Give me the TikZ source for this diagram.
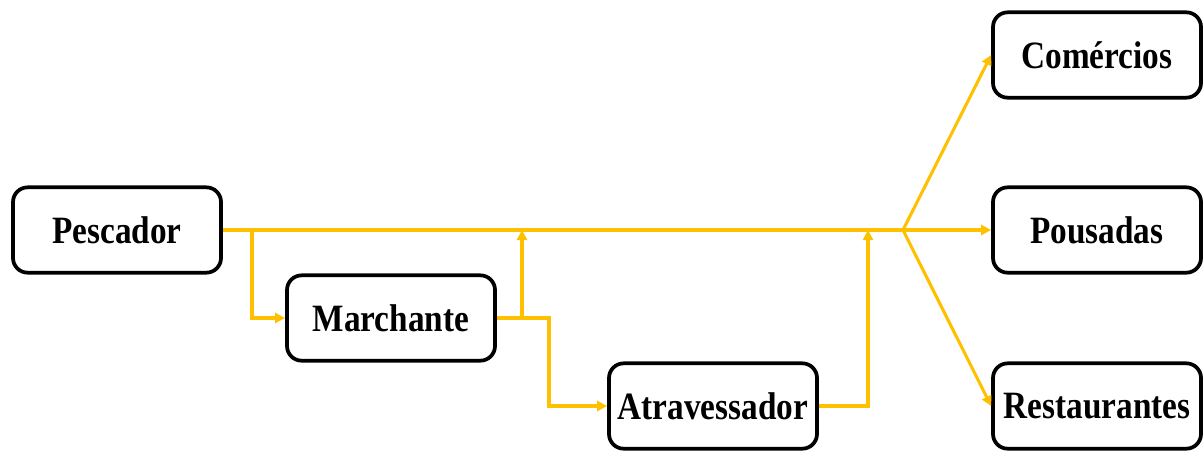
\documentclass[tikz,border=0pt]{standalone}
\usepackage{fontspec}
\setmainfont{Liberation Serif}
\newfontfamily\boxfont[FakeStretch=0.86]{Liberation Serif}
\usetikzlibrary{arrows.meta}
\definecolor{flowgold}{RGB}{255,192,0}

\begin{document}
\begin{tikzpicture}[x=0.75pt,y=-0.75pt,
  agent/.style={draw,line width=2.8pt,rounded corners=11pt,minimum width=156pt,minimum height=64pt,inner sep=2pt,font=\boxfont\bfseries\fontsize{29}{35}\selectfont},
  flow/.style={flowgold,line width=2.3pt},
  flowarr/.style={flow,-{Triangle[length=7.5pt,width=7.5pt]}}]
\useasboundingbox (0,0) rectangle (1203,450);
% agentes
\node[agent] (pescador) at (117,230) {Pescador};
\node[agent] (marchante) at (391,318) {Marchante};
\node[agent] (atravessador) at (713,406) {Atravessador};
\node[agent] (comercios) at (1097,55) {Comércios};
\node[agent] (pousadas) at (1097,230) {Pousadas};
\node[agent] (restaurantes) at (1097,406) {Restaurantes};
% pontos de ramificacao
\coordinate (b1) at (252,0);
\coordinate (b2) at (522,0);
\coordinate (b3) at (549,0);
\coordinate (b4) at (868,0);
\coordinate (split) at (903,230);
% fluxo principal
\draw[flow] (pescador.east) -- (split);
\draw[flowarr] (b1 |- pescador.east) |- (marchante.west);
\draw[flowarr] (marchante.east) -| (b2 |- pescador.east);
\draw[flowarr] (marchante.east) -- (marchante.east -| b3) |- (atravessador.west);
\draw[flowarr] (atravessador.east) -| (b4 |- pescador.east);
% destinos
\foreach \dest in {comercios,pousadas,restaurantes} {\draw[flowarr] (split) -- (\dest.west);}
\end{tikzpicture}
\end{document}
